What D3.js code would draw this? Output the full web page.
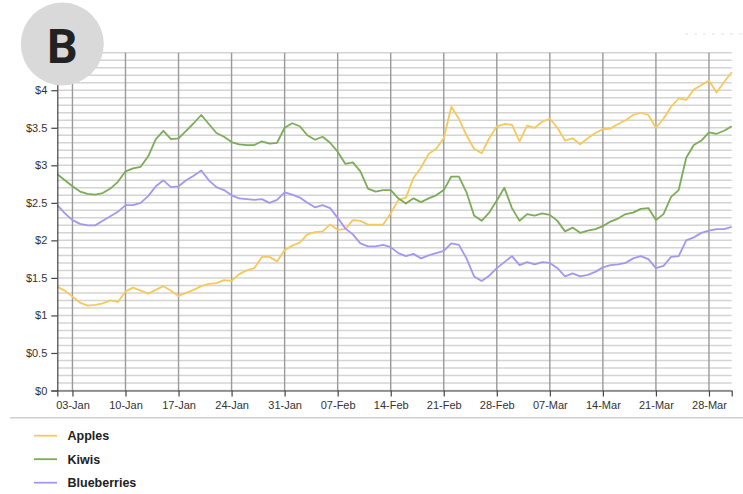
<!DOCTYPE html>
<html>
<head>
<meta charset="utf-8">
<script src="https://cdn.jsdelivr.net/npm/d3@7"></script>
<style>
  html, body { margin: 0; padding: 0; background: #fff; }
  svg { display: block; }
  .axis text { font-family: "Liberation Sans", Arial, sans-serif; font-size: 11px; fill: #333; }
  .axis path, .axis line { stroke: #444; stroke-width: 1.2; }
</style>
</head>
<body>
<svg id="chart" width="743" height="494"></svg>
<script>
// Daily prices, 1 Jan – 31 Mar 2021
const startDate = new Date(2021, 0, 1);
const endDate = new Date(2021, 2, 31);

const apples = [
  1.38, 1.33, 1.25, 1.17, 1.13, 1.14, 1.16, 1.20, 1.18, 1.32,
  1.37, 1.33, 1.29, 1.34, 1.39, 1.33, 1.26, 1.30, 1.34, 1.39,
  1.42, 1.43, 1.47, 1.46, 1.55, 1.60, 1.63, 1.78, 1.78, 1.72,
  1.87, 1.93, 1.97, 2.08, 2.11, 2.12, 2.21, 2.14, 2.15, 2.27,
  2.26, 2.21, 2.21, 2.21, 2.36, 2.54, 2.57, 2.83, 2.97, 3.15,
  3.22, 3.36, 3.78, 3.62, 3.40, 3.22, 3.16, 3.36, 3.52, 3.55,
  3.54, 3.32, 3.53, 3.50, 3.58, 3.62, 3.50, 3.33, 3.36, 3.28,
  3.36, 3.43, 3.48, 3.49, 3.55, 3.60, 3.67, 3.70, 3.67, 3.50,
  3.62, 3.78, 3.89, 3.87, 4.01, 4.07, 4.13, 3.97, 4.11, 4.24
];

const kiwis = [
  2.88, 2.80, 2.72, 2.65, 2.62, 2.61, 2.63, 2.69, 2.78, 2.92,
  2.96, 2.98, 3.12, 3.35, 3.46, 3.35, 3.36, 3.46, 3.56, 3.67,
  3.55, 3.43, 3.38, 3.31, 3.28, 3.27, 3.27, 3.32, 3.29, 3.30,
  3.50, 3.56, 3.52, 3.40, 3.34, 3.38, 3.30, 3.18, 3.02, 3.04,
  2.92, 2.69, 2.65, 2.67, 2.67, 2.56, 2.49, 2.56, 2.51, 2.56,
  2.60, 2.67, 2.85, 2.85, 2.64, 2.33, 2.26, 2.37, 2.53, 2.70,
  2.43, 2.26, 2.35, 2.33, 2.36, 2.34, 2.26, 2.12, 2.17, 2.10,
  2.13, 2.15, 2.19, 2.25, 2.29, 2.35, 2.37, 2.42, 2.43, 2.27,
  2.35, 2.58, 2.67, 3.10, 3.27, 3.33, 3.44, 3.42, 3.46, 3.52
];

const blueberries = [
  2.47, 2.36, 2.27, 2.22, 2.20, 2.20, 2.26, 2.32, 2.38, 2.47,
  2.47, 2.50, 2.59, 2.72, 2.80, 2.71, 2.72, 2.80, 2.86, 2.93,
  2.80, 2.71, 2.67, 2.60, 2.56, 2.55, 2.54, 2.55, 2.50, 2.54,
  2.64, 2.61, 2.57, 2.50, 2.44, 2.47, 2.43, 2.30, 2.16, 2.08,
  1.96, 1.92, 1.92, 1.94, 1.91, 1.83, 1.79, 1.82, 1.76, 1.80,
  1.83, 1.86, 1.96, 1.94, 1.76, 1.52, 1.46, 1.53, 1.63, 1.71,
  1.79, 1.67, 1.71, 1.68, 1.71, 1.70, 1.63, 1.52, 1.56, 1.52,
  1.54, 1.58, 1.64, 1.67, 1.68, 1.70, 1.76, 1.79, 1.75, 1.63,
  1.66, 1.78, 1.79, 2.00, 2.04, 2.10, 2.13, 2.15, 2.15, 2.18
];

const seriesNames = ["Apples", "Kiwis", "Blueberries"];
const seriesValues = [apples, kiwis, blueberries];
const seriesColors = ["#f5c95c", "#7dac58", "#a597ef"];

const yMax = 4.5;
const yTickValues = [0, 0.5, 1, 1.5, 2, 2.5, 3, 3.5, 4];
const yGridStep = 0.1;

const svg = d3.select("#chart");
const margin = { left: 57.3, top: 52.7, right: 743 - 731.7, bottom: 494 - 390.5 };
const width = 743 - margin.left - margin.right;
const height = 494 - margin.top - margin.bottom;

const x = d3.scaleTime().domain([startDate, endDate]).range([0, width]);
const y = d3.scaleLinear().domain([0, yMax]).range([height, 0]);

const g = svg.append("g").attr("transform", `translate(${margin.left},${margin.top})`);

// horizontal grid, every 0.1
const gridVals = d3.range(0, Math.round(yMax / yGridStep) + 1).map(i => +(i * yGridStep).toFixed(2));
g.append("g").selectAll("line").data(gridVals).join("line")
  .attr("x1", 0).attr("x2", width)
  .attr("y1", d => y(d)).attr("y2", d => y(d))
  .attr("stroke", "#d4d4d4").attr("stroke-width", 1.5);

// weekly vertical grid
const weekTicks = x.ticks(d3.timeWeek.every(1));
g.append("g").selectAll("line").data(weekTicks).join("line")
  .attr("x1", d => x(d)).attr("x2", d => x(d))
  .attr("y1", 0).attr("y2", height)
  .attr("stroke", "#9a9a9a").attr("stroke-width", 1.4);

// series lines
const line = d3.line()
  .x((d, i) => x(d3.timeDay.offset(startDate, i)))
  .y(d => y(d));

seriesValues.forEach((vals, k) => {
  g.append("path").datum(vals)
    .attr("fill", "none")
    .attr("stroke", seriesColors[k])
    .attr("stroke-width", 1.8)
    .attr("stroke-linejoin", "round")
    .attr("d", line);
});

// axes
g.append("g").attr("class", "axis")
  .attr("transform", `translate(0,${height})`)
  .call(d3.axisBottom(x).tickValues(weekTicks).tickFormat(d3.timeFormat("%d-%b")).tickSize(6).tickPadding(5));

g.append("g").attr("class", "axis")
  .call(d3.axisLeft(y).tickValues(yTickValues).tickFormat(d => "$" + d).tickSize(6).tickPadding(4));

// separator above legend
svg.append("line")
  .attr("x1", 10).attr("x2", 743).attr("y1", 417.7).attr("y2", 417.7)
  .attr("stroke", "#cfcfcf").attr("stroke-width", 1.5);

// legend
const legend = svg.append("g").attr("transform", "translate(34,435.7)");
seriesNames.forEach((name, k) => {
  const row = legend.append("g").attr("transform", `translate(0,${k * 23.5})`);
  row.append("line").attr("x1", 0).attr("x2", 23).attr("y1", 0).attr("y2", 0)
    .attr("stroke", seriesColors[k]).attr("stroke-width", 1.8);
  row.append("text").attr("x", 33.5).attr("y", 4.5)
    .attr("font-family", "'Liberation Sans', Arial, sans-serif")
    .attr("font-size", 12.5).attr("font-weight", "bold").attr("fill", "#222")
    .text(name);
});

// faint dashes at top right
svg.append("line")
  .attr("x1", 685).attr("x2", 743).attr("y1", 34).attr("y2", 34)
  .attr("stroke", "#e2e2e2").attr("stroke-width", 1).attr("stroke-dasharray", "3,6");

// panel badge
svg.append("circle").attr("cx", 62.3).attr("cy", 44).attr("r", 41.5).attr("fill", "#d9d9d9");
svg.append("text").attr("x", 62.3).attr("y", 63)
  .attr("text-anchor", "middle")
  .attr("font-family", "Roboto, 'Liberation Sans', Arial, sans-serif")
  .attr("font-size", 48).attr("font-weight", 700).attr("fill", "#222")
  .text("B");
</script>
</body>
</html>
